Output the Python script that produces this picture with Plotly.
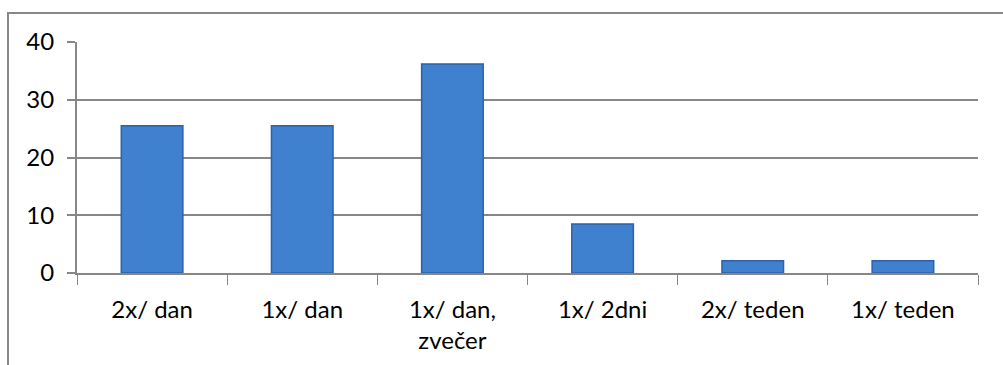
import plotly.graph_objects as go

categories = ["2x/ dan", "1x/ dan", "1x/ dan,<br>zvečer", "1x/ 2dni", "2x/ teden", "1x/ teden"]
values = [25.5, 25.5, 36.2, 8.5, 2.1, 2.1]
y_ticks = [0, 10, 20, 30, 40]

W, H = 1003, 365
L, R, T, B = 77, 25, 42, 92
pw, ph = W - L - R, H - T - B
gray = "#878787"
font = dict(family="Lato, Open Sans, sans-serif", size=24, color="#000000")

fig = go.Figure(go.Bar(
    x=categories, y=values, width=0.41,
    marker=dict(color="#3f80cf", line=dict(color="#2d62a8", width=1.5)),
))

fig.update_layout(
    width=W, height=H, margin=dict(l=L, r=R, t=T, b=B),
    paper_bgcolor="white", plot_bgcolor="white", showlegend=False,
    font=font,
    xaxis=dict(type="category", tickson="boundaries", ticks="outside", ticklen=10,
               tickcolor=gray, showline=True, linecolor=gray, linewidth=2,
               showgrid=False, tickfont=font, ticklabelstandoff=14),
    yaxis=dict(range=[0, 40], tickvals=y_ticks, ticks="outside", ticklen=8,
               tickcolor=gray, tickwidth=2, showline=True, linecolor=gray, linewidth=2,
               showgrid=True, gridcolor=gray, gridwidth=2, zeroline=False,
               tickfont=font, ticklabelstandoff=8),
    shapes=[dict(type="rect", xref="paper", yref="paper",
                 x0=(8 - L) / pw, x1=1.2, y0=-0.8, y1=1 + (T - 13) / ph,
                 line=dict(color=gray, width=2), layer="below")],
)

fig.write_html("out.html")
